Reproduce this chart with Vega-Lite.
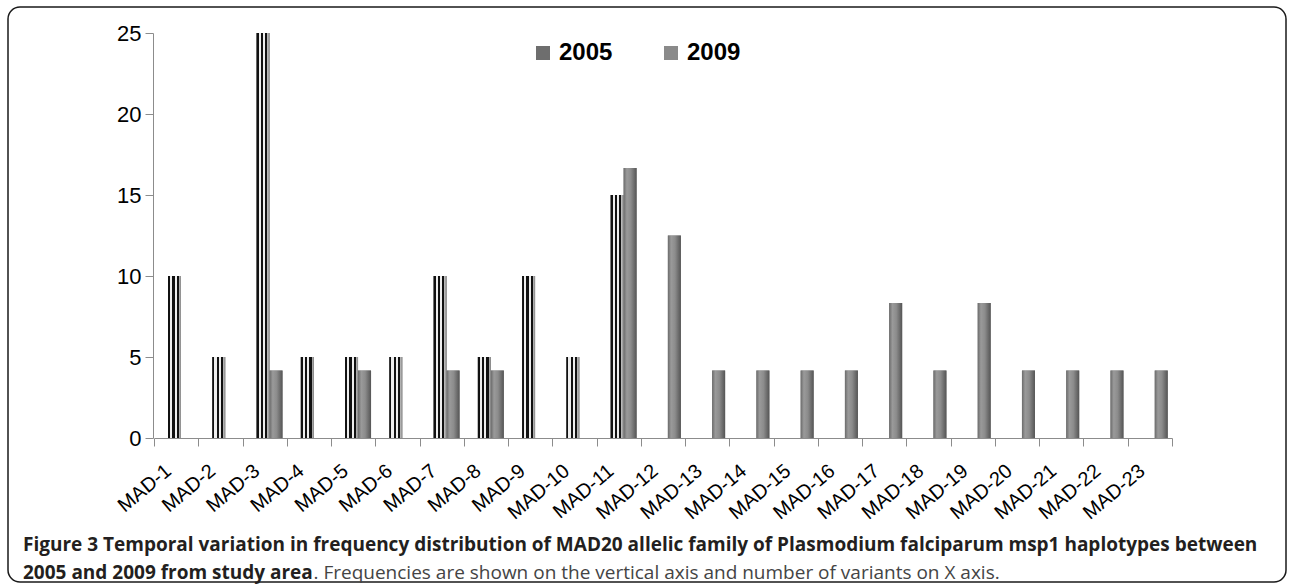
{
  "$schema": "https://vega.github.io/schema/vega-lite/v6.json",
  "autosize": {"type": "none"},
  "padding": {"left": 8, "top": 7, "right": 3, "bottom": 5},
  "width": 1278,
  "height": 575,
  "background": "white",
  "config": {
    "view": {"stroke": "#1a1a1a", "strokeWidth": 1.5, "cornerRadius": 12},
    "font": "Liberation Sans"
  },
  "title": {
    "text": ["Figure 3 Temporal variation in frequency distribution of MAD20 allelic family of Plasmodium falciparum msp1 haplotypes between", "2005 and 2009 from study area"],
    "orient": "bottom",
    "anchor": "start",
    "frame": "group",
    "offset": -46,
    "dx": 15,
    "font": "Open Sans",
    "fontSize": 19,
    "fontWeight": "bold",
    "color": "#231f20",
    "lineHeight": 28
  },
  "data": {
    "values": [
      {"variant": "MAD-1", "year": "2005", "freq": 10}, {"variant": "MAD-1", "year": "2009", "freq": 0},
      {"variant": "MAD-2", "year": "2005", "freq": 5}, {"variant": "MAD-2", "year": "2009", "freq": 0},
      {"variant": "MAD-3", "year": "2005", "freq": 25}, {"variant": "MAD-3", "year": "2009", "freq": 4.17},
      {"variant": "MAD-4", "year": "2005", "freq": 5}, {"variant": "MAD-4", "year": "2009", "freq": 0},
      {"variant": "MAD-5", "year": "2005", "freq": 5}, {"variant": "MAD-5", "year": "2009", "freq": 4.17},
      {"variant": "MAD-6", "year": "2005", "freq": 5}, {"variant": "MAD-6", "year": "2009", "freq": 0},
      {"variant": "MAD-7", "year": "2005", "freq": 10}, {"variant": "MAD-7", "year": "2009", "freq": 4.17},
      {"variant": "MAD-8", "year": "2005", "freq": 5}, {"variant": "MAD-8", "year": "2009", "freq": 4.17},
      {"variant": "MAD-9", "year": "2005", "freq": 10}, {"variant": "MAD-9", "year": "2009", "freq": 0},
      {"variant": "MAD-10", "year": "2005", "freq": 5}, {"variant": "MAD-10", "year": "2009", "freq": 0},
      {"variant": "MAD-11", "year": "2005", "freq": 15}, {"variant": "MAD-11", "year": "2009", "freq": 16.67},
      {"variant": "MAD-12", "year": "2005", "freq": 0}, {"variant": "MAD-12", "year": "2009", "freq": 12.5},
      {"variant": "MAD-13", "year": "2005", "freq": 0}, {"variant": "MAD-13", "year": "2009", "freq": 4.17},
      {"variant": "MAD-14", "year": "2005", "freq": 0}, {"variant": "MAD-14", "year": "2009", "freq": 4.17},
      {"variant": "MAD-15", "year": "2005", "freq": 0}, {"variant": "MAD-15", "year": "2009", "freq": 4.17},
      {"variant": "MAD-16", "year": "2005", "freq": 0}, {"variant": "MAD-16", "year": "2009", "freq": 4.17},
      {"variant": "MAD-17", "year": "2005", "freq": 0}, {"variant": "MAD-17", "year": "2009", "freq": 8.33},
      {"variant": "MAD-18", "year": "2005", "freq": 0}, {"variant": "MAD-18", "year": "2009", "freq": 4.17},
      {"variant": "MAD-19", "year": "2005", "freq": 0}, {"variant": "MAD-19", "year": "2009", "freq": 8.33},
      {"variant": "MAD-20", "year": "2005", "freq": 0}, {"variant": "MAD-20", "year": "2009", "freq": 4.17},
      {"variant": "MAD-21", "year": "2005", "freq": 0}, {"variant": "MAD-21", "year": "2009", "freq": 4.17},
      {"variant": "MAD-22", "year": "2005", "freq": 0}, {"variant": "MAD-22", "year": "2009", "freq": 4.17},
      {"variant": "MAD-23", "year": "2005", "freq": 0}, {"variant": "MAD-23", "year": "2009", "freq": 4.17}
    ]
  },
  "encoding": {
    "x": {
      "field": "variant", "type": "nominal", "sort": null,
      "scale": {"range": [146, 1164], "paddingInner": 0, "paddingOuter": 0},
      "axis": {
        "title": ". Frequencies are shown on the vertical axis and number of variants on X axis.",
        "titleX": 305, "titleY": 134, "titleAlign": "left", "titleAnchor": "start",
        "titleBaseline": "middle", "titleAngle": 0,
        "titleFont": "Open Sans", "titleFontSize": 19, "titleFontWeight": "normal", "titleColor": "#444444",
        "orient": "bottom", "offset": -144,
        "labelAngle": -40, "labelAlign": "right", "labelBaseline": "middle",
        "labelFont": "Liberation Sans", "labelFontSize": 20, "labelColor": "#000000",
        "labelPadding": 22, "labelOffset": -8,
        "tickBand": "extent", "tickSize": 8, "tickColor": "#8c8c8c",
        "domainColor": "#8c8c8c", "grid": false
      }
    },
    "xOffset": {
      "field": "year", "type": "nominal",
      "scale": {"domain": ["2005", "2009"], "range": [14, 40], "paddingInner": 0, "paddingOuter": 0}
    },
    "y": {
      "field": "freq", "type": "quantitative",
      "scale": {"domain": [0, 25], "range": [431, 26], "nice": false, "zero": true},
      "axis": {
        "title": null, "orient": "left", "offset": -145,
        "values": [0, 5, 10, 15, 20, 25],
        "labelFont": "Liberation Sans", "labelFontSize": 22, "labelColor": "#000000",
        "labelPadding": 4, "tickSize": 8, "tickColor": "#8c8c8c",
        "domainColor": "#8c8c8c", "grid": false
      }
    }
  },
  "layer": [
    {
      "mark": {"type": "bar"},
      "encoding": {
        "color": {
          "field": "year", "type": "nominal",
          "scale": {"domain": ["2005", "2009"], "range": ["#6e6e6e", "#8a8a8a"]},
          "legend": {
            "title": null, "orient": "none", "direction": "horizontal",
            "legendX": 523, "legendY": 34, "padding": 0,
            "symbolType": "square", "symbolSize": 196, "symbolStrokeWidth": 0,
            "labelFont": "Liberation Sans", "labelFontSize": 24, "labelFontWeight": "bold",
            "labelColor": "#000000", "labelOffset": 4, "columnPadding": 46
          }
        }
      }
    },
    {
      "transform": [{"filter": "datum.year == '2005'"}],
      "mark": {
        "type": "bar",
        "fill": {
          "gradient": "linear", "x1": 0, "y1": 0, "x2": 1, "y2": 0,
          "stops": [
            {"offset": 0, "color": "#111111"}, {"offset": 0.16, "color": "#111111"},
            {"offset": 0.16, "color": "#eeeeee"}, {"offset": 0.33, "color": "#eeeeee"},
            {"offset": 0.33, "color": "#111111"}, {"offset": 0.5, "color": "#111111"},
            {"offset": 0.5, "color": "#eeeeee"}, {"offset": 0.66, "color": "#eeeeee"},
            {"offset": 0.66, "color": "#111111"}, {"offset": 0.83, "color": "#111111"},
            {"offset": 0.83, "color": "#bbbbbb"}, {"offset": 1, "color": "#888888"}
          ]
        }
      },
      "encoding": {}
    },
    {
      "transform": [{"filter": "datum.year == '2009'"}],
      "mark": {
        "type": "bar",
        "fill": {
          "gradient": "linear", "x1": 0, "y1": 0, "x2": 1, "y2": 0,
          "stops": [
            {"offset": 0, "color": "#6b6b6b"}, {"offset": 0.25, "color": "#9a9a9a"},
            {"offset": 0.55, "color": "#8c8c8c"}, {"offset": 1, "color": "#555555"}
          ]
        }
      },
      "encoding": {}
    }
  ]
}
